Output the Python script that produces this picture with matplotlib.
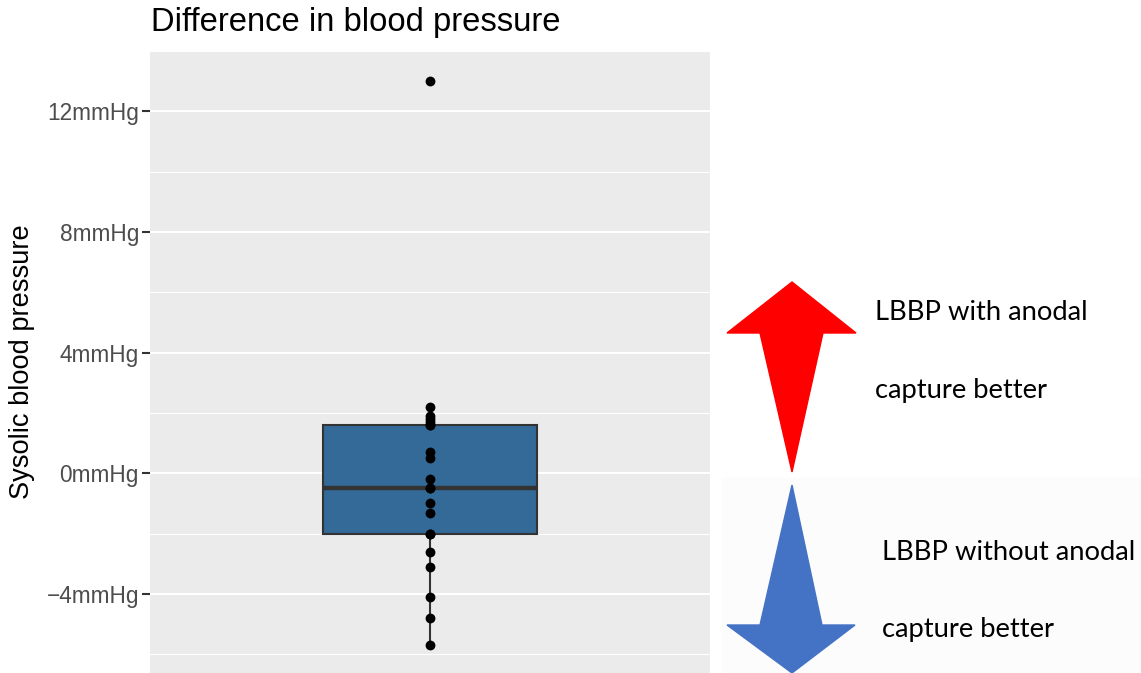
import matplotlib
matplotlib.use("Agg")
import matplotlib.pyplot as plt
from matplotlib.patches import Polygon, Rectangle
from matplotlib.ticker import FixedLocator

# systolic BP difference per patient (mmHg)
sbp_diff = [13.0, 2.2, 1.9, 1.8, 1.7, 1.6, 1.6, 0.7, 0.5, -0.2, -0.5, -0.5,
            -1.0, -1.3, -2.0, -2.0, -2.6, -3.1, -4.1, -4.8, -5.7]
major_ticks = [-4, 0, 4, 8, 12]
minor_ticks = [-6, -2, 2, 6, 10, 14]
tick_labels = ["\u22124mmHg", "0mmHg", "4mmHg", "8mmHg", "12mmHg"]

up_text = ["LBBP with anodal", "capture better"]
down_text = ["LBBP without anodal", "capture better"]

W, H = 1141, 673
fig = plt.figure(figsize=(W / 100, H / 100), dpi=100)
ax = fig.add_axes([150 / W, 0, 560 / W, 1 - 51 / H])
ax.set_facecolor("#EBEBEB")

ax.boxplot([sbp_diff], positions=[1], widths=0.46, patch_artist=True, showfliers=False,
           whis=1.5, showcaps=False,
           boxprops=dict(facecolor="#336A98", edgecolor="#333333", linewidth=1.5),
           medianprops=dict(color="#333333", linewidth=3.2),
           whiskerprops=dict(color="#333333", linewidth=1.5), zorder=2)
ax.scatter([1] * len(sbp_diff), sbp_diff, s=50, color="black", zorder=3, linewidths=0)

ax.set_xlim(0.4, 1.6)
ax.set_ylim(-6.62, 14.0)
ax.yaxis.set_major_locator(FixedLocator(major_ticks))
ax.yaxis.set_minor_locator(FixedLocator(minor_ticks))
ax.set_yticklabels(tick_labels)
ax.grid(which="major", axis="y", color="white", lw=1.5)
ax.grid(which="minor", axis="y", color="white", lw=0.8)
ax.set_axisbelow(True)
ax.set_xticks([])
for sp in ax.spines.values():
    sp.set_visible(False)
ax.tick_params(axis="y", which="major", length=6, width=1.5, color="#333333",
               labelsize=16.3, labelcolor="#4D4D4D", pad=2)
ax.tick_params(axis="y", which="minor", length=0)
for lab in ax.get_yticklabels():
    lab.set_family("Liberation Sans")
ax.set_ylabel("Sysolic blood pressure", fontsize=19.6, family="Liberation Sans", labelpad=8)
fig.text(151 / W, 1 - 22 / H, "Difference in blood pressure", fontsize=23.6,
         family="Liberation Sans", va="center", ha="left")

# arrows (pixel coords -> figure fraction)
def px(pts):
    return [(x / W, 1 - y / H) for x, y in pts]

fig.patches.append(Rectangle((722 / W, 0), (W - 722) / W, (H - 478) / H,
                             transform=fig.transFigure, color="#FCFCFC", zorder=0))
red = px([(792, 282), (856, 333), (823, 333), (792, 472), (760, 333), (727, 333)])
blue = px([(792, 485), (822, 625), (855, 625), (792, 673), (727, 625), (760, 625)])
fig.patches.append(Polygon(red, closed=True, transform=fig.transFigure, color="#FF0000", zorder=1))
fig.patches.append(Polygon(blue, closed=True, transform=fig.transFigure, color="#4472C4", zorder=1))

for txt, y in zip(up_text, [312, 390]):
    fig.text(875 / W, 1 - y / H, txt, fontsize=19.7, family="Lato", va="center", ha="left")
for txt, y in zip(down_text, [553, 630]):
    fig.text(882 / W, 1 - y / H, txt, fontsize=19.7, family="Lato", va="center", ha="left")

fig.savefig("out.png", dpi=100)
